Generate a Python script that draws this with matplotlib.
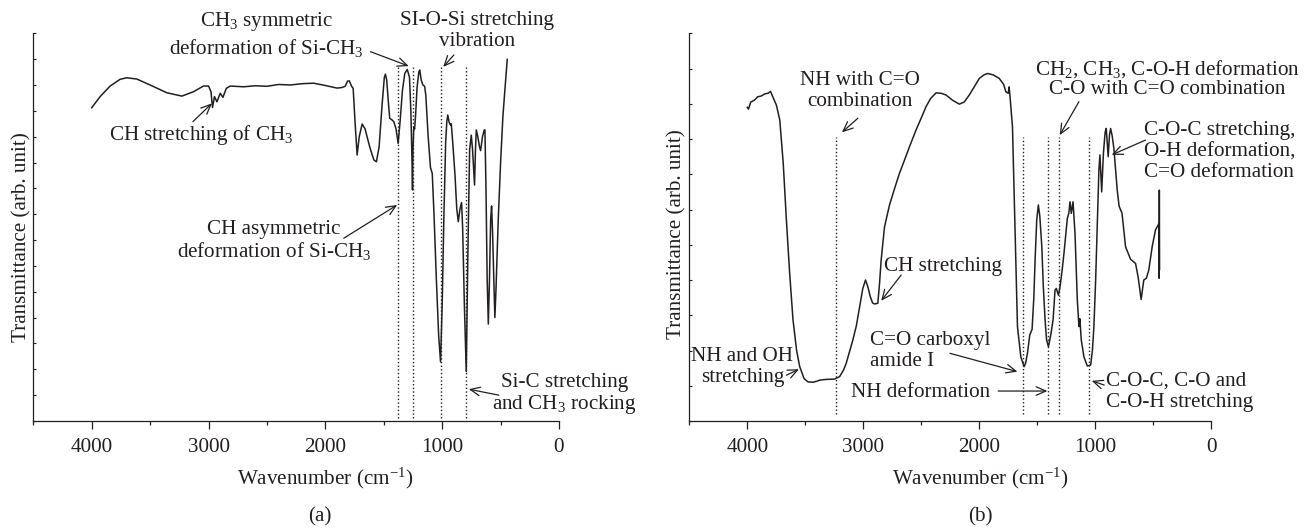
import matplotlib
matplotlib.use("Agg")
import matplotlib.pyplot as plt

plt.rcParams['font.family'] = ['Liberation Serif', 'DejaVu Serif']
plt.rcParams['mathtext.fontset'] = 'custom'
plt.rcParams['mathtext.rm'] = 'Liberation Serif'
plt.rcParams['mathtext.it'] = 'Liberation Serif:italic'
plt.rcParams['mathtext.bf'] = 'Liberation Serif:bold'

INK = '#231f20'
FS = 15.2

# ---------------- data: panel (a) ----------------
wn_a = [4000, 3928, 3842, 3757, 3700, 3614, 3500, 3357, 3228, 3129, 3043, 3000,
        2979, 2966, 2949, 2928, 2900, 2877, 2848, 2814, 2700, 2600, 2500, 2400,
        2300, 2200, 2100, 2000, 1950, 1900, 1860, 1830, 1810, 1795, 1775, 1762,
        1745, 1728, 1710, 1685, 1660, 1620, 1585, 1563, 1540, 1515, 1495, 1486,
        1475, 1460, 1449, 1430, 1414, 1395, 1377, 1360, 1340, 1320, 1299, 1280,
        1268, 1258, 1254, 1250, 1243, 1236, 1228, 1215, 1200, 1192, 1180, 1165,
        1150, 1140, 1120, 1100, 1085, 1070, 1050, 1030, 1014, 1000, 985, 970,
        960, 952, 940, 929, 922, 910, 890, 875, 862, 848, 834, 825, 810, 794,
        780, 765, 751, 740, 723, 715, 708, 695, 680, 671, 655, 640, 634, 625,
        615, 605, 595, 585, 577, 568, 558, 549, 540, 520, 500, 480, 460, 443]
tr_a = [12.12, 12.55, 12.96, 13.22, 13.28, 13.23, 13.00, 12.70, 12.57, 12.74, 12.96, 12.96,
        12.74, 12.13, 12.55, 12.35, 12.68, 12.52, 12.87, 12.96, 12.93, 12.97, 12.95, 13.02,
        13.00, 13.05, 13.07, 12.98, 12.93, 12.88, 12.90, 12.95, 13.15, 13.16, 12.95, 12.87,
        11.50, 10.29, 11.00, 11.49, 11.30, 10.60, 10.10, 10.03, 10.60, 12.20, 13.30, 13.42,
        13.20, 12.30, 11.71, 11.65, 11.58, 11.30, 10.74, 11.60, 12.80, 13.45, 13.60, 13.30,
        12.00, 10.00, 8.94, 10.50, 11.38, 11.30, 11.80, 12.90, 13.50, 13.58, 13.20, 13.00,
        12.95, 12.60, 11.00, 9.80, 9.58, 8.00, 5.50, 3.30, 2.29, 4.50, 8.00, 10.80,
        11.60, 11.84, 11.55, 11.45, 11.50, 10.80, 9.50, 8.20, 7.71, 8.20, 8.45, 7.50, 4.50, 1.91,
        6.50, 10.50, 11.06, 10.50, 9.13, 10.50, 11.26, 11.00, 10.60, 10.46, 11.00, 11.26, 11.26, 9.00,
        5.50, 3.75, 5.50, 7.80, 8.32, 7.20, 5.50, 4.00, 5.00, 7.80, 10.00, 11.80, 13.00, 13.99]
marks_a = [1377, 1251, 1014, 794]

# ---------------- data: panel (b) ----------------
wn_b = [4000, 3990, 3970, 3940, 3910, 3880, 3850, 3821, 3800, 3780, 3749, 3720,
        3690, 3663, 3635, 3606, 3575, 3548, 3510, 3477, 3434, 3400, 3376, 3320,
        3247, 3204, 3170, 3147, 3120, 3090, 3060, 3032, 3005, 2981, 2960, 2940,
        2920, 2903, 2875, 2860, 2846, 2830, 2817, 2774, 2730, 2688, 2645, 2602,
        2545, 2500, 2459, 2420, 2373, 2330, 2287, 2230, 2172, 2130, 2086, 2040,
        2000, 1960, 1929, 1880, 1828, 1790, 1771, 1750, 1743, 1735, 1714, 1700,
        1685, 1671, 1642, 1614, 1600, 1585, 1565, 1545, 1530, 1519, 1505, 1491,
        1478, 1461, 1448, 1433, 1420, 1404, 1384, 1364, 1347, 1336, 1318, 1304,
        1285, 1270, 1241, 1228, 1218, 1207, 1192, 1175, 1155, 1141, 1133, 1121,
        1098, 1069, 1040, 1025, 1012, 997, 983, 969, 960, 952, 945, 930,
        915, 906, 897, 889, 878, 868, 855, 840, 811, 795, 782, 770,
        739, 696, 653, 631, 605, 590, 582, 560, 539, 510, 481, 459,
        452, 450, 448, 446]
tr_b = [8.90, 8.85, 9.05, 9.10, 9.20, 9.22, 9.28, 9.30, 9.35, 9.20, 8.96, 8.54,
        7.30, 5.70, 4.20, 2.87, 2.00, 1.54, 1.20, 1.11, 1.10, 1.13, 1.16, 1.18,
        1.19, 1.26, 1.45, 1.64, 1.95, 2.30, 2.70, 3.24, 3.75, 4.00, 3.80, 3.53,
        3.35, 3.32, 3.34, 3.90, 4.57, 5.10, 5.51, 6.13, 6.60, 7.03, 7.40, 7.78,
        8.26, 8.60, 8.92, 9.15, 9.31, 9.30, 9.25, 9.10, 8.99, 9.05, 9.25, 9.50,
        9.72, 9.82, 9.86, 9.82, 9.72, 9.55, 9.34, 9.30, 9.48, 9.20, 8.35, 6.50,
        4.57, 2.68, 1.82, 1.54, 1.65, 1.92, 2.44, 2.60, 3.50, 4.57, 5.70, 6.13,
        5.80, 4.94, 3.80, 2.87, 2.30, 2.11, 2.44, 2.87, 3.72, 3.76, 3.57, 3.81,
        4.30, 4.76, 5.75, 5.90, 6.22, 5.89, 6.22, 5.32, 3.43, 2.68, 2.90, 2.30,
        1.82, 1.56, 1.59, 2.00, 2.68, 4.00, 5.51, 7.12, 7.55, 7.00, 6.50, 7.60,
        8.20, 8.30, 7.90, 7.50, 8.10, 8.30, 8.10, 7.74, 6.55, 6.10, 5.99, 5.90,
        4.94, 4.59, 4.47, 4.09, 3.45, 3.80, 4.00, 4.05, 4.28, 4.94, 5.42, 5.56,
        5.60, 4.05, 6.55, 4.30]
marks_b = [3233, 1620, 1405, 1313, 1055]

x_ticks = [4000, 3000, 2000, 1000, 0]
x_minor = [4500, 3500, 2500, 1500, 500]

W, H = 1316, 529
fig = plt.figure(figsize=(W / 100, H / 100), dpi=100)
fig.patch.set_facecolor('white')

ax_a = fig.add_axes([33.3 / W, 1 - 421 / H, (559 - 33.3) / W, (421 - 33.3) / H])
ax_b = fig.add_axes([689.3 / W, 1 - 421 / H, (1211.3 - 689.3) / W, (421 - 33.3) / H])


def style(ax, ntop):
    ax.set_xlim(4500, 0)
    ax.set_ylim(0, ntop)
    for s in ['top', 'right']:
        ax.spines[s].set_visible(False)
    for s in ['left', 'bottom']:
        ax.spines[s].set_linewidth(0.9)
        ax.spines[s].set_color(INK)
    ax.set_xticks(x_ticks)
    ax.set_xticks(x_minor, minor=True)
    ax.set_xticklabels([str(t) for t in x_ticks])
    ax.tick_params(axis='x', which='major', direction='out', length=6, width=0.9,
                   color=INK, labelsize=FS, labelcolor=INK, pad=6)
    ax.tick_params(axis='x', which='minor', direction='out', length=3, width=0.9, color=INK)
    ax.set_yticks(range(0, ntop + 1))
    ax.set_yticklabels([])
    ax.tick_params(axis='y', which='major', direction='in', length=2.5, width=0.8, color=INK)
    ax.patch.set_alpha(0)


style(ax_a, 15)
style(ax_b, 11)

ax_a.plot(wn_a, tr_a, color=INK, lw=1.1)
ax_b.plot(wn_b, tr_b, color=INK, lw=1.1)

ax_a.vlines(marks_a, 0.1, 13.7, colors=INK, linestyles=':', lw=1.0)
ax_b.vlines(marks_b, 0.2, 8.07, colors=INK, linestyles=':', lw=1.0)


def arrow(ax, tip, tail):
    ax.annotate('', xy=tip, xytext=tail, annotation_clip=False,
                arrowprops=dict(arrowstyle='->,head_length=0.5,head_width=0.22',
                                mutation_scale=14, lw=0.9, color=INK,
                                shrinkA=0, shrinkB=0))


def label(ax, x, y, s, ha='center', ls=1.15):
    ax.text(x, y, s, ha=ha, va='center', fontsize=FS, color=INK,
            linespacing=ls, multialignment=ha, clip_on=False)


# panel (a) annotations
label(ax_a, 3066, 11.06, 'CH stretching of CH$_3$')
arrow(ax_a, (2971, 12.29), (3134, 11.58))
label(ax_a, 2506, 14.95, 'CH$_3$ symmetric\ndeformation of Si-CH$_3$', ls=1.22)
arrow(ax_a, (1286, 13.73), (1614, 14.29))
label(ax_a, 705, 15.1, 'SI-O-Si stretching\nvibration')
arrow(ax_a, (991, 13.7), (900, 14.16))
label(ax_a, 2438, 6.96, 'CH asymmetric\ndeformation of Si-CH$_3$', ls=1.05)
arrow(ax_a, (1385, 8.36), (1843, 7.07))
label(ax_a, -48, 1.04, 'Si-C stretching\nand CH$_3$ rocking', ls=1.05)
arrow(ax_a, (772, 1.23), (515, 1.0))

# panel (b) annotations
label(ax_b, 3025, 9.37, 'NH with C=O\ncombination')
arrow(ax_b, (3184, 8.19), (3047, 8.59))
label(ax_b, 2316, 4.38, 'CH stretching')
arrow(ax_b, (2846, 3.41), (2674, 4.14))
label(ax_b, 4042, 1.52, 'NH and OH\nstretching')
arrow(ax_b, (3554, 1.47), (3663, 1.30))
label(ax_b, 2940, 1.99, 'C=O carboxyl\namide I', ha='left')
arrow(ax_b, (1671, 1.40), (2253, 1.92))
label(ax_b, 2507, 0.8, 'NH deformation')
arrow(ax_b, (1413, 0.85), (1837, 0.85))
label(ax_b, 380, 9.72, 'CH$_2$, CH$_3$, C-O-H deformation\nC-O with C=O combination', ls=1.05)
arrow(ax_b, (1307, 8.11), (1141, 9.06))
label(ax_b, 576, 7.64, 'C-O-C stretching,\nO-H deformation,\nC=O deformation', ha='left')
arrow(ax_b, (859, 7.55), (567, 7.97))
label(ax_b, 904, 0.83, 'C-O-C, C-O and\nC-O-H stretching', ha='left')
arrow(ax_b, (1031, 1.14), (923, 1.02))

# axis titles and captions
for xc, yl in [(21.7, 237), (677, 234)]:
    fig.text(xc / W, 1 - yl / H, 'Transmittance (arb. unit)', rotation=90,
             ha='center', va='center', fontsize=FS, color=INK)
for xc in [325, 980]:
    fig.text(xc / W, 1 - 478 / H, 'Wavenumber (cm$^{-1}$)', ha='center', va='center',
             fontsize=FS, color=INK)
fig.text(320 / W, 1 - 517 / H, '(a)', ha='center', va='center', fontsize=FS, color=INK)
fig.text(980 / W, 1 - 517 / H, '(b)', ha='center', va='center', fontsize=FS, color=INK)

fig.savefig('out.png', dpi=100, facecolor='white')
